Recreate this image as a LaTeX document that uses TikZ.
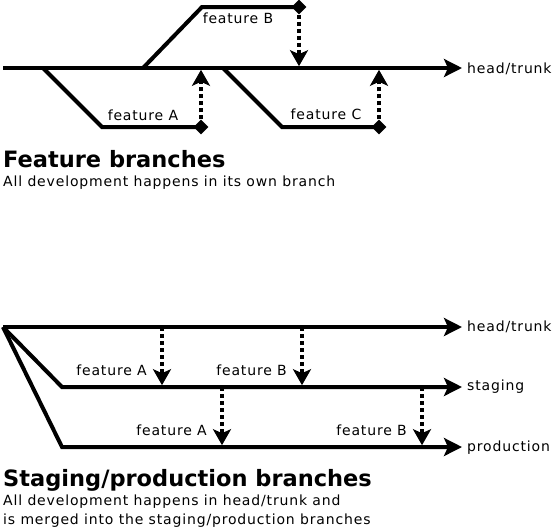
\documentclass[tikz,border=0pt]{standalone}
\usepackage{fontspec}
\setmainfont{DejaVu Sans}[LetterSpace=6]
\newfontfamily\headfont{DejaVu Sans}
\usetikzlibrary{arrows.meta,shapes.geometric}

\tikzset{
  branch/.style = {line width=4pt},
  trunk/.style = {branch, -{Stealth[length=18pt,width=18pt,inset=4pt]}},
  merge/.style = {line width=4pt, dash pattern=on 4pt off 3pt,
    -{Stealth[length=16pt,width=18pt,inset=4pt]}, shorten >=1.8pt},
  tip/.style = {diamond, fill, inner sep=0pt, minimum size=15pt},
  lbl/.style = {font=\fontsize{14}{17}\selectfont, inner sep=0pt},
  title/.style = {font=\headfont\bfseries\fontsize{22.5}{27}\selectfont, inner sep=0pt, anchor=base west},
  subtitle/.style = {font=\fontsize{14}{19}\selectfont, inner sep=0pt, anchor=base west, align=left}
}

\begin{document}
\begin{tikzpicture}[x=1pt,y=-1pt]
\useasboundingbox (0,0) rectangle (553,531);

% feature branches
\begin{scope}[shift={(0,68)}]
\coordinate (t0) at (3,0);
\coordinate (t1) at (462,0);
\draw[trunk] (t0) -- (t1);
\node[lbl, anchor=base west] (tname) at (467,5) {head/trunk};

% feature A
\coordinate (fa0) at (43,0);
\coordinate (fa1) at (102,59);
\node[tip] (fa) at (201,59) {};
\coordinate (ma) at (201,0);
\draw[branch] (fa0) -- (fa1) -- (fa.center);
\draw[merge] (fa) -- (ma);
\node[lbl, anchor=base] (la) at (143,52) {feature A};

% feature B
\coordinate (fb0) at (143,0);
\coordinate (fb1) at (202,-61);
\node[tip] (fb) at (299,-61) {};
\coordinate (mb) at (299,0);
\draw[branch] (fb0) -- (fb1) -- (fb.center);
\draw[merge] (fb) -- (mb);
\node[lbl, anchor=base] (lb) at (238,-45) {feature B};

% feature C
\coordinate (fc0) at (223,0);
\coordinate (fc1) at (282,59);
\node[tip] (fc) at (379,59) {};
\coordinate (mc) at (379,0);
\draw[branch] (fc0) -- (fc1) -- (fc.center);
\draw[merge] (fc) -- (mc);
\node[lbl, anchor=base] (lc) at (326,51) {feature C};

\node[title] (head1) at (3,99) {Feature branches};
\node[subtitle] (sub1) at (3,118) {All development happens in its own branch};
\end{scope}

% staging/production branches
\begin{scope}[shift={(0,327)}]
\coordinate (h0) at (3,0);
\coordinate (h1) at (462,0);
\coordinate (s0) at (62,60);
\coordinate (s1) at (462,60);
\coordinate (p0) at (62,120);
\coordinate (p1) at (462,120);
\draw[trunk] (h0) -- (h1);
\draw[trunk] (h0) -- (s0) -- (s1);
\draw[trunk] (h0) -- (p0) -- (p1);
\node[lbl, anchor=base west] (hname) at (467,4) {head/trunk};
\node[lbl, anchor=base west] (sname) at (467,63) {staging};
\node[lbl, anchor=base west] (pname) at (467,124) {production};

% merges into staging
\coordinate (ha) at (162,0);
\coordinate (sa) at (162,60);
\coordinate (hb) at (302,0);
\coordinate (sb) at (302,60);
\draw[merge] (ha) -- (sa);
\draw[merge] (hb) -- (sb);
\node[lbl, anchor=base east] (lsa) at (147,48) {feature A};
\node[lbl, anchor=base east] (lsb) at (287,48) {feature B};

% merges into production
\coordinate (sa2) at (222,60);
\coordinate (pa) at (222,120);
\coordinate (sb2) at (422,60);
\coordinate (pb) at (422,120);
\draw[merge] (sa2) -- (pa);
\draw[merge] (sb2) -- (pb);
\node[lbl, anchor=base east] (lpa) at (207,108) {feature A};
\node[lbl, anchor=base east] (lpb) at (407,108) {feature B};

\node[title] (head2) at (3,159) {Staging/production branches};
\node[subtitle] (sub2) at (3,197) {All development happens in head/trunk and\\is merged into the staging/production branches};
\end{scope}

\end{tikzpicture}
\end{document}
